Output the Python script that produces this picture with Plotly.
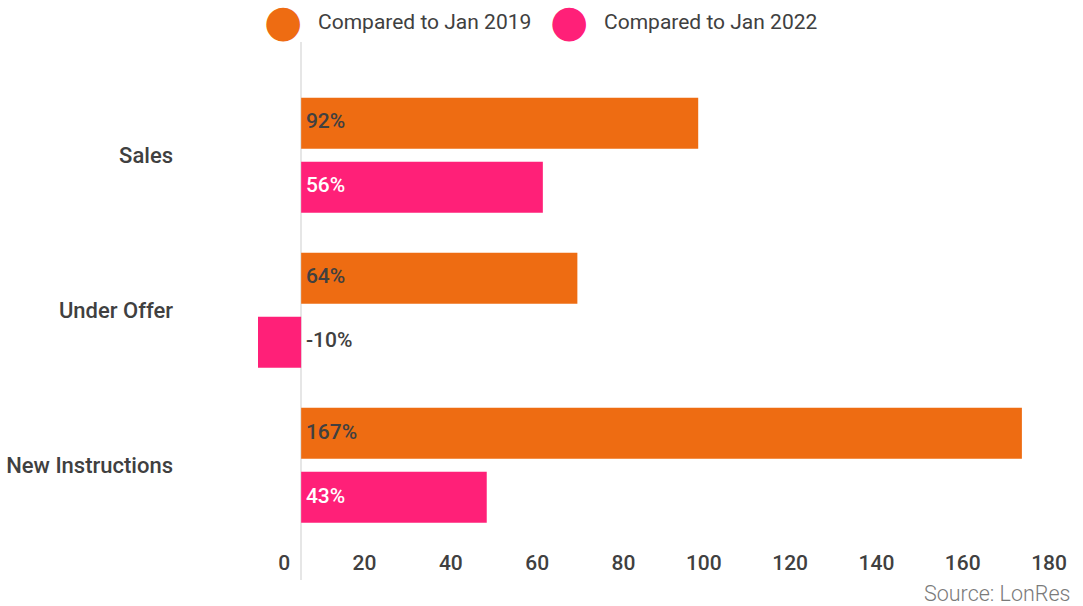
import plotly.graph_objects as go

categories = ["Sales", "Under Offer", "New Instructions"]
series_names = ["Compared to Jan 2019", "Compared to Jan 2022"]
vs_2019 = [92, 64, 167]
vs_2022 = [56, -10, 43]
labels_2019 = ["92%", "64%", "167%"]
labels_2022 = ["56%", "-10%", "43%"]
tick_vals = [0, 20, 40, 60, 80, 100, 120, 140, 160, 180]

ORANGE = "#EE6C12"
PINK = "#FF2078"
DARK = "#404040"
FONT = "Roboto"

fig = go.Figure()

for name, vals, col in [(series_names[0], vs_2019, ORANGE), (series_names[1], vs_2022, PINK)]:
    fig.add_trace(go.Bar(
        x=vals, y=categories, orientation="h", name=name,
        marker=dict(color=col, line=dict(width=0)),
        showlegend=False, hoverinfo="skip",
    ))

# value labels, grouped like the bars
for vals, labs, cols in [
    (vs_2019, labels_2019, [DARK] * 3),
    (vs_2022, labels_2022, ["white" if v >= 0 else DARK for v in vs_2022]),
]:
    fig.add_trace(go.Scatter(
        x=[0] * len(vals), y=categories, orientation="h", mode="markers+text",
        marker=dict(size=6, opacity=0),
        text=labs, textposition="middle right",
        textfont=dict(family=FONT, size=21, color=cols, weight=500),
        showlegend=False, hoverinfo="skip", cliponaxis=False,
    ))

# legend entries with large round markers (glyph in the entry text)
for name, col, lg in [(series_names[0], ORANGE, "legend"), (series_names[1], PINK, "legend2")]:
    fig.add_trace(go.Scatter(
        x=[None], y=[None], mode="none", legend=lg,
        name=(f'<span style="font-family:DejaVu Sans;font-size:44px;color:{col};'
              f'baseline-shift:-7px">●</span>'
              f'<span style="font-size:21px">   {name}</span>'),
    ))

legend_common = dict(
    orientation="h", xref="container", yref="container",
    xanchor="left", y=1 - 16 / 606, yanchor="middle",
    font=dict(family=FONT, size=34, color=DARK),
    itemwidth=30, bgcolor="rgba(0,0,0,0)",
)

fig.update_layout(
    width=1083, height=606,
    paper_bgcolor="white", plot_bgcolor="white",
    margin=dict(l=258, r=5, t=42, b=26, autoexpand=False),
    barmode="group", bargap=0.174, bargroupgap=0.203,
    scattermode="group", scattergap=0.174,
    font=dict(family=FONT, size=20, color=DARK),
    legend=dict(x=224 / 1083, **legend_common),
    legend2=dict(x=510 / 1083, **legend_common),
    xaxis=dict(
        range=[-10, 180], tickvals=tick_vals, showgrid=False,
        zeroline=True, zerolinecolor="#e6e6e6", zerolinewidth=2,
        showline=False, ticks="", ticklabelposition="inside left", ticklabelshift=-11,
        tickfont=dict(family=FONT, size=21, color=DARK, weight=500),
        fixedrange=True,
    ),
    yaxis=dict(
        categoryorder="array", categoryarray=categories,
        range=[2.74, -0.73], showgrid=False, zeroline=False, showline=False,
        ticks="", ticklabelstandoff=84,
        tickfont=dict(family=FONT, size=22, color=DARK, weight=500),
        fixedrange=True,
    ),
    annotations=[dict(
        text="Source: LonRes", xref="paper", yref="paper",
        x=1, xanchor="right", xshift=-5, y=-13 / 538, yanchor="middle",
        showarrow=False, font=dict(family=FONT, size=21.5, color="#7a7a7a", weight=300),
    )],
)

fig.write_html("out.html")
